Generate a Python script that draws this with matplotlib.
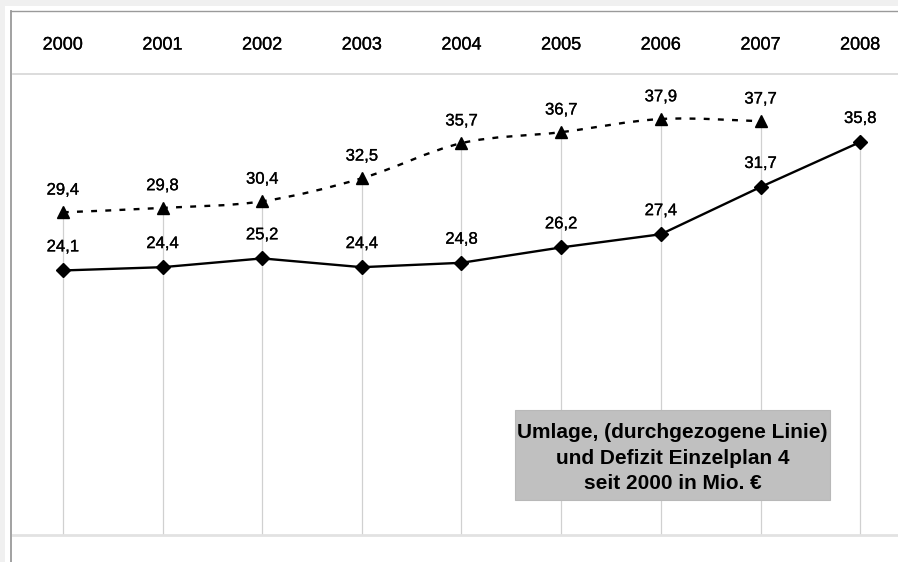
import numpy as np
import matplotlib.pyplot as plt
from matplotlib.path import Path
from matplotlib.patches import PathPatch, Rectangle
from matplotlib.lines import Line2D
import matplotlib.transforms as mtransforms
import matplotlib.patheffects as pe

plt.rcParams['font.family'] = ['Liberation Sans', 'DejaVu Sans']

years = ['2000', '2001', '2002', '2003', '2004', '2005', '2006', '2007', '2008']
umlage = [24.1, 24.4, 25.2, 24.4, 24.8, 26.2, 27.4, 31.7, 35.8]
defizit = [29.4, 29.8, 30.4, 32.5, 35.7, 36.7, 37.9, 37.7]
box_text = 'Umlage, (durchgezogene Linie)\nund Defizit Einzelplan 4\nseit 2000 in Mio. €'

W, H = 898, 562
fig = plt.figure(figsize=(W / 100, H / 100), dpi=100, facecolor='white')

def fx(px):
    return px / W

def fy(py):
    return 1 - py / H

# a touch heavier than plain regular weight
heavy = [pe.withStroke(linewidth=0.2, foreground='black')]

# outer frame with light grey margin
fig.patches.append(Rectangle((0, fy(6)), 1, 6 / H, transform=fig.transFigure,
                             facecolor='#f0f0f0', edgecolor='none', zorder=0))
fig.patches.append(Rectangle((0, 0), fx(5), 1, transform=fig.transFigure,
                             facecolor='#f0f0f0', edgecolor='none', zorder=0))
fig.lines.append(Line2D([fx(10.5), fx(10.5)], [0, fy(11)], transform=fig.transFigure,
                        color='#9a9a9a', lw=1.3))
fig.lines.append(Line2D([fx(10.5), 1], [fy(11), fy(11)], transform=fig.transFigure,
                        color='#9a9a9a', lw=1.0))

# plot area, extends past the right edge of the figure
left, right, top, bottom = 13, 910, 74, 535
ax = fig.add_axes([fx(left), fy(bottom), fx(right - left), (bottom - top) / H])
ax.set_facecolor('white')
ax.set_xlim(-0.5, len(years) - 0.5)
ax.set_ylim(0, 42)
ax.set_xticks([])
ax.set_yticks([])
for s in ['left', 'right']:
    ax.spines[s].set_visible(False)
ax.spines['top'].set_color('#d6d6d6')
ax.spines['top'].set_linewidth(1.2)
ax.spines['bottom'].set_color('#e2e2e2')
ax.spines['bottom'].set_linewidth(2.0)

x_um = np.arange(len(umlage))
x_df = np.arange(len(defizit))

# drop lines from the highest point of each year down to the axis
tops = [max(umlage[i], defizit[i]) if i < len(defizit) else umlage[i] for i in range(len(umlage))]
ax.vlines(x_um, 0, tops, color='#d0d0d0', lw=0.9, zorder=1)

# smoothed dashed line for Defizit (Bezier through the data points)
pts = np.column_stack([x_df, defizit]).astype(float)
verts = [pts[0]]
codes = [Path.MOVETO]
n = len(pts)
for i in range(n - 1):
    p0 = pts[i - 1] if i > 0 else pts[i]
    p1 = pts[i]
    p2 = pts[i + 1]
    p3 = pts[i + 2] if i + 2 < n else pts[i + 1]
    c1 = p1 + (p2 - p0) / 6
    c2 = p2 - (p3 - p1) / 6
    verts += [c1, c2, p2]
    codes += [Path.CURVE4] * 3
ax.add_patch(PathPatch(Path(verts, codes), facecolor='none', edgecolor='black',
                       lw=1.7, linestyle=(0, (2.5, 3.5)), zorder=2))
ax.plot(x_df, defizit, linestyle='none', marker='^', color='black', markersize=9, zorder=3)

ax.plot(x_um, umlage, color='black', lw=1.7, marker='D', markersize=7, zorder=3)

def fmt(v):
    return f'{v:.1f}'.replace('.', ',')

for x, v in zip(x_df, defizit):
    ax.annotate(fmt(v), (x, v), xytext=(0, 16), textcoords='offset points',
                ha='center', va='center', fontsize=12, path_effects=heavy)
for x, v in zip(x_um, umlage):
    ax.annotate(fmt(v), (x, v), xytext=(0, 17), textcoords='offset points',
                ha='center', va='center', fontsize=12, path_effects=heavy)

# year labels in the header band
trans = mtransforms.blended_transform_factory(ax.transData, fig.transFigure)
for x, y in zip(x_um, years):
    ax.text(x, fy(45), y, transform=trans, ha='center', va='center', fontsize=13,
            clip_on=False, path_effects=heavy)

# caption box
fig.patches.append(Rectangle((fx(515), fy(500)), fx(830 - 515), (500 - 410) / H,
                             transform=fig.transFigure, facecolor='#c0c0c0',
                             edgecolor='#b8b8b8', lw=0.8, zorder=5))
fig.text(fx(672.5), fy(458), box_text, ha='center', va='center', fontsize=15,
         fontweight='bold', linespacing=1.45, zorder=6)

fig.savefig('out.png', dpi=100)
